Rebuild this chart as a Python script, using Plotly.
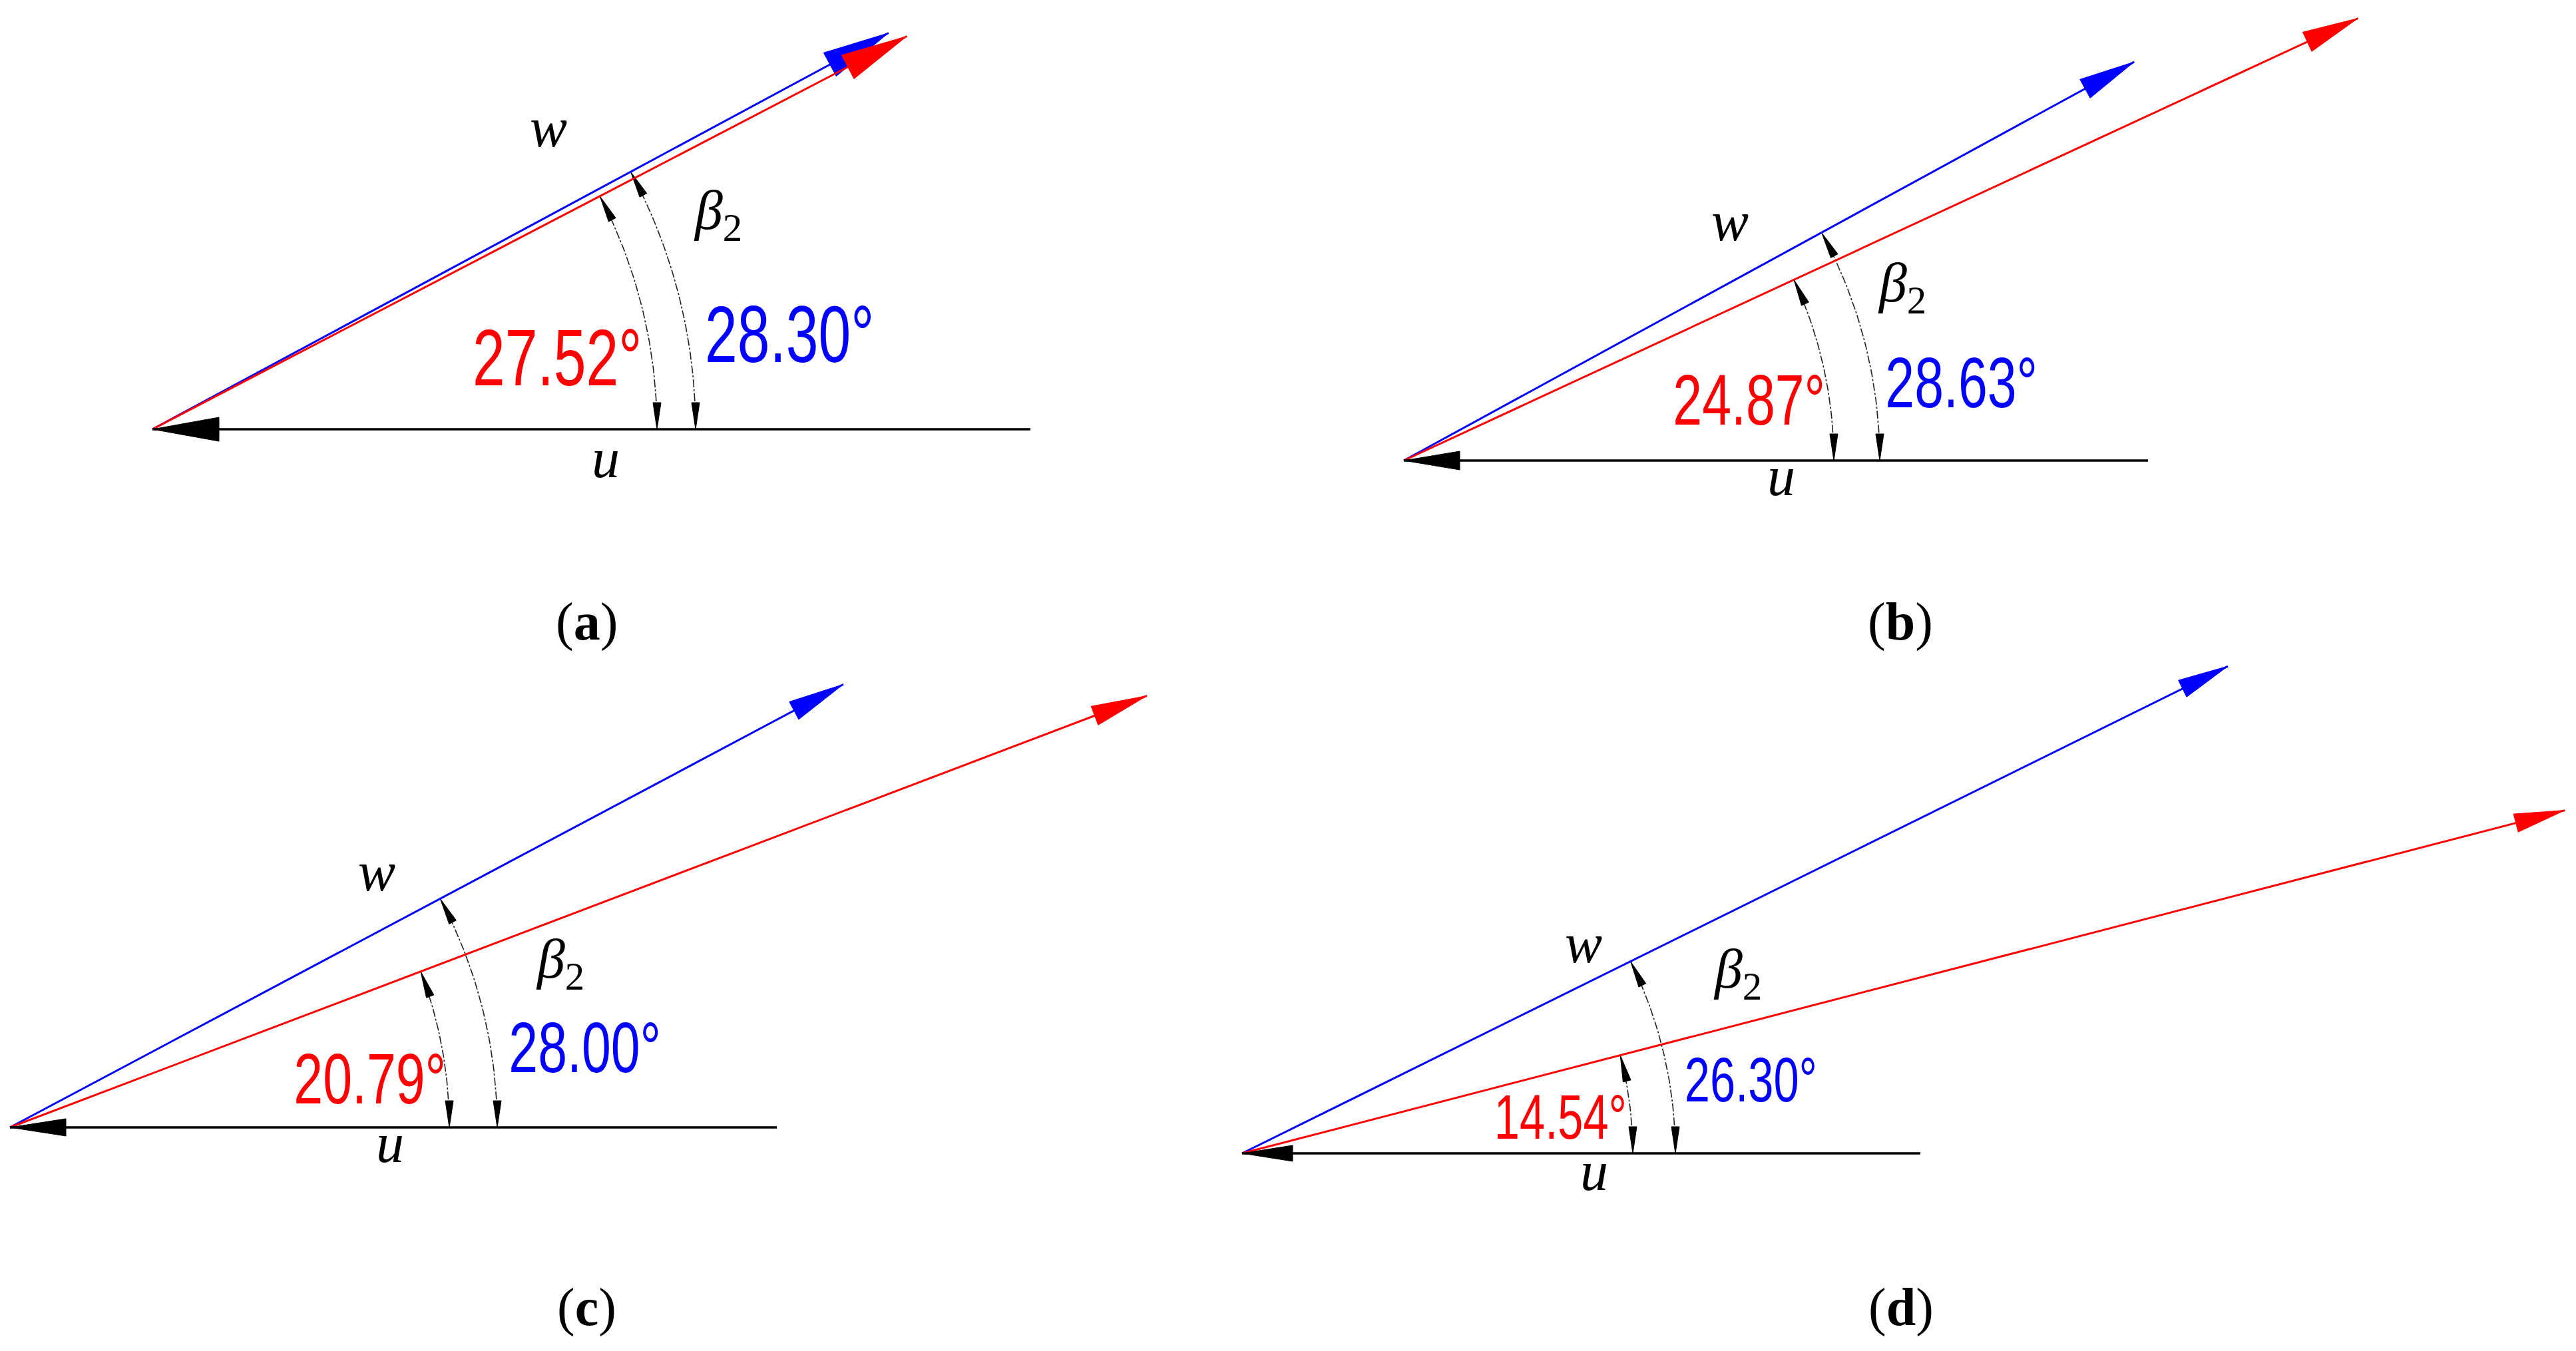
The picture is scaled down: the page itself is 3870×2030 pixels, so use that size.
import numpy as np
import plotly.graph_objects as go

W, H = 3870, 2030
BLUE = "#0000ff"
RED = "#ff0000"
BLACK = "#000000"

panels = ["a", "b", "c", "d"]
origin_x = [229, 2109, 15, 1866]
origin_y = [645, 692, 1694, 1733]
u_length = [1319, 1118, 1152, 1019]

# angles as printed on the figure, in degrees
blue_angle = [28.30, 28.63, 28.00, 26.30]
red_angle = [27.52, 24.87, 20.79, 14.54]
blue_length = [1256, 1250, 1418, 1652]
red_length = [1278, 1580, 1827, 2053]
blue_arc_radius = [816, 715, 732, 651]
red_arc_radius = [758, 646, 660, 587]

blue_text = ["28.30°", "28.63°", "28.00°", "26.30°"]
red_text = ["27.52°", "24.87°", "20.79°", "14.54°"]
blue_text_x = [1186, 2946, 878, 2630]
blue_text_y = [502, 574, 1573, 1622]
red_text_x = [837, 2627, 555, 2344]
red_text_y = [537, 600, 1620, 1678]
angle_font = [120, 108, 108, 94]

w_x = [824, 2599, 566, 2379]
w_y = [191, 332, 1309, 1417]
u_x = [910, 2676, 586, 2395]
u_y = [688, 715, 1717, 1759]
beta_x = [1078, 2857, 841, 2610]
beta_y = [322, 431, 1447, 1462]
caption_x = [881, 2855, 881, 2856]
caption_y = [934, 934, 1964, 1964]

head_length = [100, 84, 84, 76]
head_half = [20, 16, 15, 14]

# the dimension font on the drawing is tall and narrow, squeeze the coloured labels
SQUEEZE_JS = """
document.body.style.margin = '0';
document.querySelectorAll('.annotation-text').forEach(function (t) {
  var fill = t.style.fill;
  if (fill.indexOf('255, 0, 0') >= 0 || fill.indexOf('0, 0, 255') >= 0) {
    t.style.transformBox = 'fill-box';
    t.style.transformOrigin = 'center';
    t.style.transform = 'scaleX(0.73)';
  }
});
"""


def head_trace(tip_x, tip_y, angle, length, half, color):
    # angle is the pointing direction, y axis runs downward
    dx, dy = np.cos(np.radians(angle)), -np.sin(np.radians(angle))
    bx, by = tip_x - dx * length, tip_y - dy * length
    xs = [tip_x, bx - dy * half, bx + dy * half, tip_x]
    ys = [tip_y, by + dx * half, by - dx * half, tip_y]
    return go.Scatter(x=xs, y=ys, mode="lines", fill="toself", fillcolor=color,
                      line=dict(color=color, width=1), hoverinfo="skip")


def vector(fig, ox, oy, angle, length, hl, hh, color):
    tx = ox + length * np.cos(np.radians(angle))
    ty = oy - length * np.sin(np.radians(angle))
    fig.add_trace(go.Scatter(x=[ox, tx], y=[oy, ty], mode="lines",
                             line=dict(color=color, width=3), hoverinfo="skip"))
    fig.add_trace(head_trace(tx, ty, angle, hl, hh, color))


def arc(fig, ox, oy, radius, angle):
    t = np.linspace(0, angle, 40)
    xs = ox + radius * np.cos(np.radians(t))
    ys = oy - radius * np.sin(np.radians(t))
    fig.add_trace(go.Scatter(x=xs, y=ys, mode="lines", hoverinfo="skip",
                             line=dict(color="#222222", width=1.6, dash="12px,3px,3px,3px")))
    fig.add_trace(head_trace(xs[0], ys[0], -90, 40, 6, BLACK))
    fig.add_trace(head_trace(xs[-1], ys[-1], angle + 90, 40, 6, BLACK))


fig = go.Figure()
notes = []


def label(x, y, text, size, color=BLACK, family="Liberation Serif"):
    notes.append(dict(x=x, y=y, xref="x", yref="y", text=text, showarrow=False,
                      xanchor="center", yanchor="middle",
                      font=dict(family=family, size=size, color=color)))


for i, p in enumerate(panels):
    ox, oy = origin_x[i], origin_y[i]
    arc(fig, ox, oy, blue_arc_radius[i], blue_angle[i])
    arc(fig, ox, oy, red_arc_radius[i], red_angle[i])
    vector(fig, ox, oy, blue_angle[i], blue_length[i], head_length[i], head_half[i], BLUE)
    vector(fig, ox, oy, red_angle[i], red_length[i], head_length[i], head_half[i], RED)
    # u points back towards the origin
    fig.add_trace(go.Scatter(x=[ox, ox + u_length[i]], y=[oy, oy], mode="lines",
                             line=dict(color=BLACK, width=3.5), hoverinfo="skip"))
    fig.add_trace(head_trace(ox, oy, 180, head_length[i], head_half[i] - 2, BLACK))

    label(blue_text_x[i], blue_text_y[i], blue_text[i], angle_font[i], BLUE, "Liberation Sans")
    label(red_text_x[i], red_text_y[i], red_text[i], angle_font[i], RED, "Liberation Sans")
    label(w_x[i], w_y[i], "<i>w</i>", 84)
    label(u_x[i], u_y[i], "<i>u</i>", 84)
    label(beta_x[i], beta_y[i], "<i>β</i><sub>2</sub>", 84)
    label(caption_x[i], caption_y[i], "(<b>" + p + "</b>)", 80)

fig.update_layout(width=W, height=H, margin=dict(l=0, r=0, t=0, b=0),
                  paper_bgcolor="white", plot_bgcolor="white", showlegend=False,
                  annotations=notes,
                  xaxis=dict(range=[0, W], visible=False, fixedrange=True),
                  yaxis=dict(range=[H, 0], visible=False, fixedrange=True))

fig.write_html("out.html", post_script=SQUEEZE_JS, config={"displayModeBar": False})
